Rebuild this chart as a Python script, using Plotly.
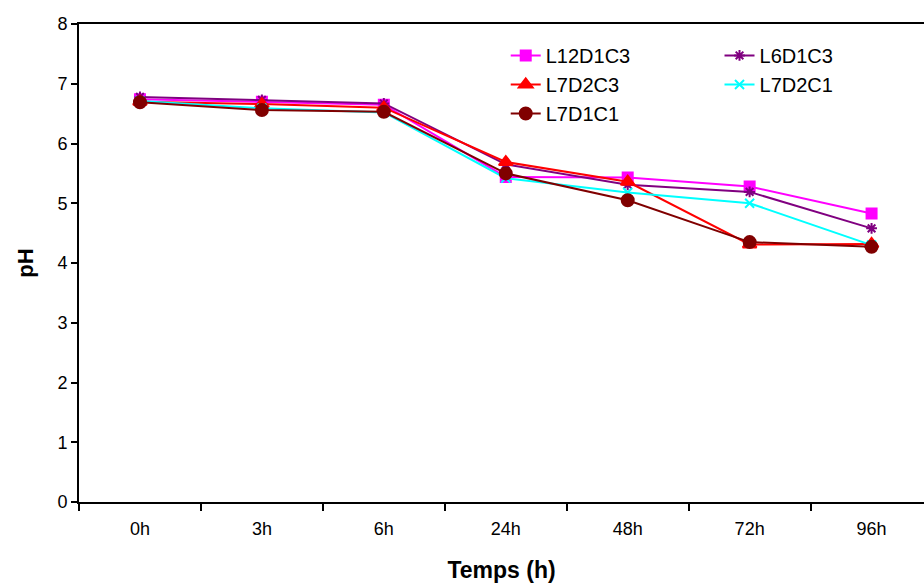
import plotly.graph_objects as go

categories = ["0h", "3h", "6h", "24h", "48h", "72h", "96h"]
L12D1C3 = [6.74, 6.70, 6.65, 5.44, 5.43, 5.28, 4.83]
L6D1C3 = [6.78, 6.73, 6.67, 5.65, 5.31, 5.19, 4.58]
L7D2C3 = [6.70, 6.66, 6.60, 5.69, 5.36, 4.31, 4.32]
L7D2C1 = [6.71, 6.59, 6.52, 5.42, 5.18, 5.00, 4.30]
L7D1C1 = [6.69, 6.56, 6.53, 5.50, 5.05, 4.35, 4.27]
y_ticks = [0, 1, 2, 3, 4, 5, 6, 7, 8]

series = [
    ("L12D1C3", L12D1C3, "#FF00FF", "square", 10, "legend"),
    ("L6D1C3", L6D1C3, "#800080", "asterisk-open", 9, "legend2"),
    ("L7D2C3", L7D2C3, "#FF0000", "triangle-up", 12, "legend"),
    ("L7D2C1", L7D2C1, "#00FFFF", "x-thin-open", 9, "legend2"),
    ("L7D1C1", L7D1C1, "#800000", "circle", 12, "legend"),
]

fig = go.Figure()
for name, vals, col, sym, sz, lg in series:
    fig.add_trace(go.Scatter(
        x=categories, y=vals, name=name, mode="lines+markers",
        line=dict(color=col, width=2),
        marker=dict(symbol=sym, size=sz, color=col, line=dict(color=col, width=2)),
        legend=lg,
    ))

font = "Arial, Liberation Sans, sans-serif"
leg_common = dict(
    orientation="v", yanchor="top", xanchor="left",
    font=dict(size=20, family=font), bgcolor="rgba(0,0,0,0)",
    tracegroupgap=0, itemwidth=30, traceorder="normal",
)
fig.update_layout(
    width=924, height=586,
    margin=dict(l=79, r=0, t=24, b=84),
    paper_bgcolor="white", plot_bgcolor="white",
    font=dict(family=font, size=18, color="black"),
    showlegend=True,
    legend=dict(x=0.505, y=0.975, **leg_common),
    legend2=dict(x=0.758, y=0.975, **leg_common),
    xaxis=dict(
        type="category", range=[-0.5, 6.43],
        showline=True, linecolor="black", linewidth=2, mirror=True,
        ticks="outside", ticklen=7, tickcolor="black", tickwidth=2,
        tickson="boundaries", showgrid=False, zeroline=False,
        ticklabelstandoff=9,
        title=dict(text="<b>Temps (h)</b>", font=dict(size=23, family=font), standoff=24),
    ),
    yaxis=dict(
        range=[0, 8], tickvals=y_ticks,
        showline=True, linecolor="black", linewidth=2,
        ticks="outside", ticklen=6, tickcolor="black", tickwidth=2,
        showgrid=False, zeroline=False,
        title=dict(text="<b>pH</b>", font=dict(size=22, family=font), standoff=18),
    ),
)
fig.write_html("out.html")
